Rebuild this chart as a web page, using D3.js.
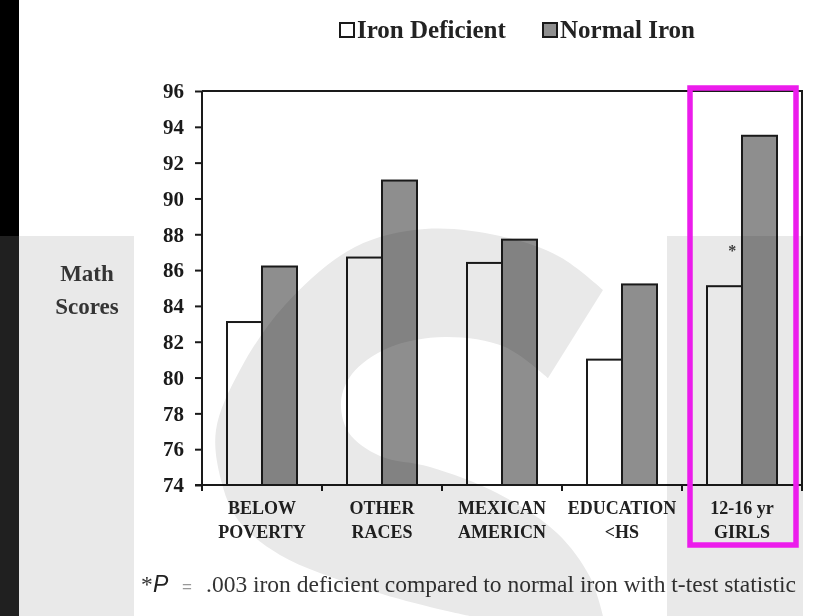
<!DOCTYPE html>
<html>
<head>
<meta charset="utf-8">
<script src="https://cdn.jsdelivr.net/npm/d3@7"></script>
<style>
  html, body { margin: 0; padding: 0; background: #fff; }
  svg { display: block; }
  .serif { font-family: "Liberation Serif", "Times New Roman", serif; }
</style>
</head>
<body>
<svg id="chart" width="820" height="616"></svg>
<script>
// ---- data ----
const categories = ["BELOW|POVERTY", "OTHER|RACES", "MEXICAN|AMERICN", "EDUCATION|<HS", "12-16 yr|GIRLS"];
const seriesNames = ["Iron Deficient", "Normal Iron"];
const ironDeficient = [83.1, 86.7, 86.4, 81.0, 85.1];
const normalIron = [86.2, 91.0, 87.7, 85.2, 93.5];
const yTicks = [74, 76, 78, 80, 82, 84, 86, 88, 90, 92, 94, 96];
const seriesColors = ["#ffffff", "#8e8e8e"];
const significant = [false, false, false, false, true];

const svg = d3.select("#chart");
const W = 820, H = 616;
const plot = { left: 202, right: 802, top: 91, bottom: 485 };

svg.append("rect").attr("width", W).attr("height", H).attr("fill", "#fff");

const x = d3.scaleBand().domain(categories).range([plot.left, plot.right])
  .paddingInner(50 / 120).paddingOuter(25 / 120);
const xEdge = d3.scaleBand().domain(categories).range([plot.left, plot.right]).padding(0);
const xSub = d3.scaleBand().domain(seriesNames).range([0, x.bandwidth()]).padding(0);
const y = d3.scaleLinear().domain([74, 96]).range([plot.bottom, plot.top]);

const chart = svg.append("g");

// frame (top and right)
chart.append("path")
  .attr("d", `M${plot.left},${plot.top}H${plot.right}V${plot.bottom}`)
  .attr("fill", "none").attr("stroke", "#1a1a1a").attr("stroke-width", 2);

// bars
const rows = categories.map((c, i) => ({ cat: c, vals: [ironDeficient[i], normalIron[i]] }));
const grp = chart.selectAll("g.cat").data(rows).join("g")
  .attr("class", "cat")
  .attr("transform", d => `translate(${x(d.cat)},0)`);
grp.selectAll("rect").data(d => d.vals.map((v, k) => ({ s: seriesNames[k], v, k }))).join("rect")
  .attr("x", d => xSub(d.s))
  .attr("y", d => y(d.v))
  .attr("width", xSub.bandwidth())
  .attr("height", d => y(74) - y(d.v))
  .attr("fill", d => seriesColors[d.k])
  .attr("stroke", "#1a1a1a").attr("stroke-width", 2);

// significance star
chart.selectAll("text.star").data(rows.filter((d, i) => significant[i])).join("text")
  .attr("class", "star serif")
  .attr("x", d => x(d.cat) + xSub(seriesNames[0]) + xSub.bandwidth() * 0.72)
  .attr("y", d => y(d.vals[0]) - 30)
  .attr("text-anchor", "middle")
  .attr("font-size", 16).attr("font-weight", "bold").attr("fill", "#444")
  .text("*");

// y axis
const yAxis = chart.append("g").attr("transform", `translate(${plot.left},0)`)
  .call(d3.axisLeft(y).tickValues(yTicks).tickSize(7).tickPadding(11).tickFormat(d3.format("d")));
yAxis.select(".domain").remove();
yAxis.selectAll("line").attr("stroke", "#1a1a1a").attr("stroke-width", 2);
yAxis.selectAll("text").attr("font-size", 21).attr("font-weight", "bold")
  .attr("fill", "#1a1a1a").attr("font-family", "Liberation Serif, serif");
chart.append("line").attr("x1", plot.left).attr("x2", plot.left)
  .attr("y1", plot.top).attr("y2", plot.bottom + 6)
  .attr("stroke", "#1a1a1a").attr("stroke-width", 2);

// x axis
chart.append("line").attr("x1", plot.left - 7).attr("x2", plot.right)
  .attr("y1", plot.bottom).attr("y2", plot.bottom)
  .attr("stroke", "#1a1a1a").attr("stroke-width", 2);
const edges = categories.map(c => xEdge(c)).concat([plot.right]);
chart.selectAll("line.xt").data(edges).join("line").attr("class", "xt")
  .attr("x1", d => d).attr("x2", d => d)
  .attr("y1", plot.bottom).attr("y2", plot.bottom + 6)
  .attr("stroke", "#1a1a1a").attr("stroke-width", 2);
const xl = chart.selectAll("text.xl").data(categories).join("text")
  .attr("class", "xl serif")
  .attr("text-anchor", "middle")
  .attr("font-size", 18).attr("font-weight", "bold").attr("fill", "#222");
xl.selectAll("tspan").data(d => d.split("|").map(t => ({ t, c: d }))).join("tspan")
  .attr("x", d => x(d.c) + x.bandwidth() / 2)
  .attr("y", (d, i) => 514 + i * 24)
  .text(d => d.t);

// y title
chart.append("text").attr("class", "serif")
  .attr("text-anchor", "middle").attr("font-size", 23).attr("font-weight", "bold").attr("fill", "#3a3a3a")
  .selectAll("tspan").data(["Math", "Scores"]).join("tspan")
  .attr("x", 87).attr("y", (d, i) => 281 + i * 33).text(d => d);

// legend
const leg = chart.append("g");
const legX = [340, 543];
seriesNames.forEach((s, i) => {
  leg.append("rect").attr("x", legX[i]).attr("y", 23).attr("width", 14).attr("height", 14)
    .attr("fill", seriesColors[i]).attr("stroke", "#1a1a1a").attr("stroke-width", 2);
  leg.append("text").attr("class", "serif").attr("x", legX[i] + 17).attr("y", 38)
    .attr("font-size", 25).attr("font-weight", "bold").attr("fill", "#222").text(s);
});

// footnote
const fn = chart.append("text").attr("y", 592).attr("font-size", 23.5).attr("fill", "#333");
fn.append("tspan").attr("x", 141).attr("font-family", "Liberation Serif, serif").text("*");
fn.append("tspan").attr("x", 153).attr("font-family", "Liberation Sans, Arial, sans-serif")
  .attr("font-style", "italic").attr("font-size", 23).attr("fill", "#222").text("P");
fn.append("tspan").attr("x", 182).attr("font-family", "Liberation Sans, Arial, sans-serif")
  .attr("font-size", 17).attr("fill", "#999").text("=");
fn.append("tspan").attr("x", 206).attr("font-family", "Liberation Serif, serif")
  .text(".003 iron deficient compared to normal iron with t-test statistic");

// ---- watermark overlay (multiply) ----
const wm = svg.append("g").style("mix-blend-mode", "multiply");
const wmGrey = "#e9e9e9";
wm.append("rect").attr("x", 0).attr("y", 0).attr("width", 19).attr("height", 236).attr("fill", "#000");
wm.append("rect").attr("x", 0).attr("y", 236).attr("width", 19).attr("height", 380).attr("fill", "#202020");
wm.append("rect").attr("x", 19).attr("y", 236).attr("width", 115).attr("height", 380).attr("fill", wmGrey);
wm.append("rect").attr("x", 667).attr("y", 236).attr("width", 136).attr("height", 380).attr("fill", wmGrey);
const outerPts = [[603, 290], [560, 257], [500, 236], [425, 229], [355, 247], [285, 305], [240, 370], [216, 430],
  [221, 480], [238, 520], [280, 555], [363, 588], [430, 607], [470, 616]];
const innerPts = [[603, 616], [590, 577], [557, 533], [497, 493], [430, 467], [380, 456], [349, 433], [341, 402],
  [352, 374], [388, 348], [445, 337], [505, 347], [548, 378]];
const ln = d3.line().curve(d3.curveCatmullRom.alpha(0.5));
const sPath = ln(outerPts) + "L" + ln(innerPts).slice(1) + "Z";
wm.append("path").attr("d", sPath).attr("fill", wmGrey);

// highlight box
svg.append("rect").attr("x", 690).attr("y", 88).attr("width", 106).attr("height", 457)
  .attr("fill", "none").attr("stroke", "#ec1cec").attr("stroke-width", 5.5);
</script>
</body>
</html>
